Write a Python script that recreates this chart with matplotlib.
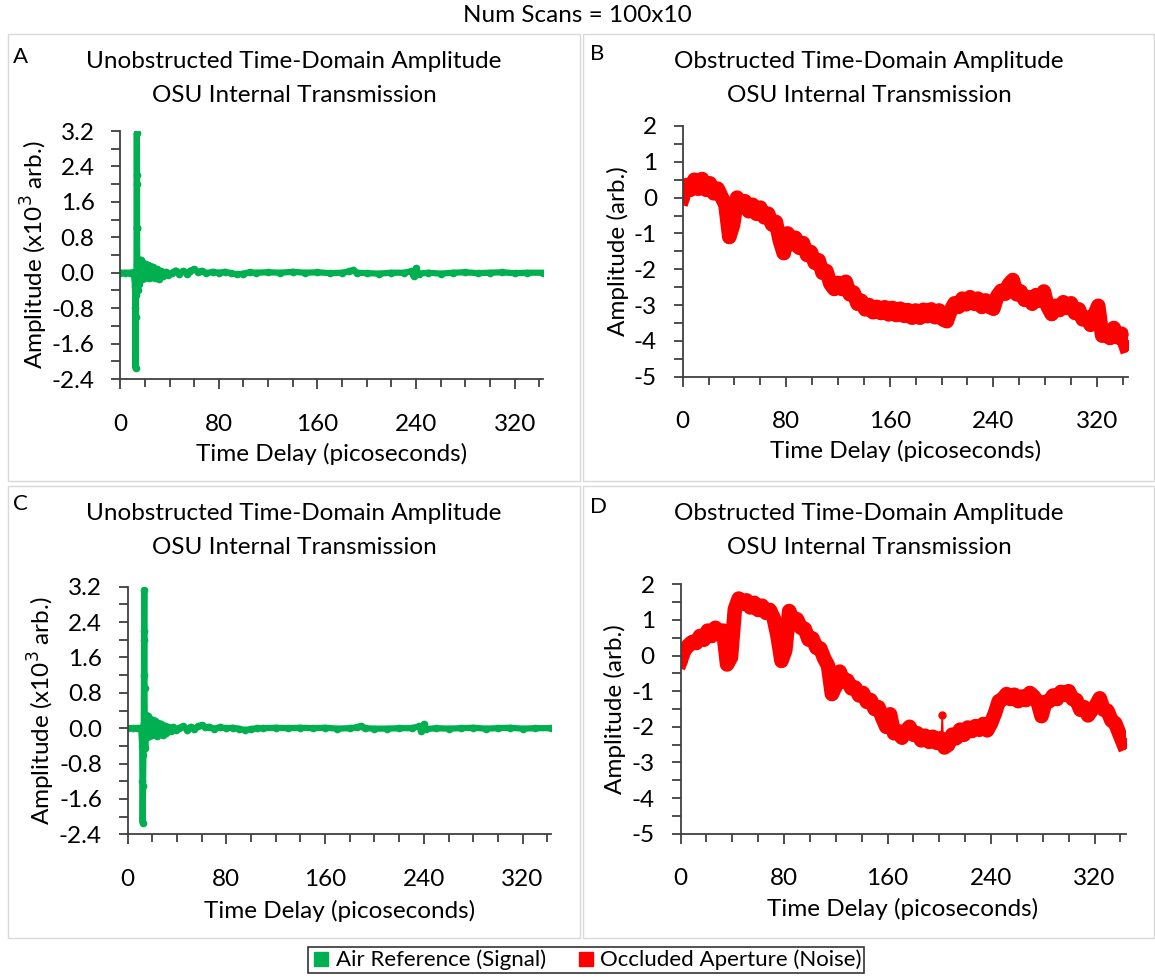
import numpy as np
import matplotlib.pyplot as plt
from matplotlib.lines import Line2D
from matplotlib.patches import Rectangle
from matplotlib.ticker import MultipleLocator, FormatStrFormatter

plt.rcParams['font.family'] = ['Lato', 'DejaVu Sans']
plt.rcParams['axes.unicode_minus'] = False

GREEN = '#00B050'
RED = '#FF0000'
AXC = '#404040'

# ---- data ----
# air reference (signal), panel A, amplitude in x10^3 arb.
a_t = [0, 4, 8, 11, 12.0, 12.3, 12.5, 12.7, 12.9, 13.2, 13.3, 13.4, 13.5, 13.6, 13.7, 13.8,
       14.2, 14.8, 15.5, 16.5, 17.5, 18.5, 19.5, 20.5, 21.5, 22.5, 23.5, 24.5, 25.5, 27,
       28.5, 30, 31.5, 33, 35, 37, 39, 42, 45, 48, 51, 54, 57, 60, 63, 66, 70, 75, 80,
       85, 90, 95, 100, 105, 110, 120, 130, 140, 150, 160, 170, 180, 186, 189, 192, 200,
       210, 220, 230, 236, 238, 240, 242, 250, 260, 270, 280, 290, 300, 310, 320, 330, 343]
a_v = [0, 0, 0, 0.01, -0.3, -0.8, -2.16, -1.0, -0.5, 0.0, 1.0, 2.0, 3.15, 2.2, 1.0, 0.2,
       -0.4, 0.3, -0.25, 0.28, -0.15, 0.22, -0.12, 0.2, -0.1, 0.18, -0.12, 0.15, -0.1, 0.12,
       -0.12, 0.08, -0.15, 0.04, -0.08, 0.02, -0.06, 0.0, 0.05, -0.03, 0.04, -0.02, 0.05,
       0.08, 0.02, 0.04, -0.01, 0.02, 0.0, 0.02, -0.01, -0.04, -0.02, 0.01, 0.0, 0.01, 0.0,
       0.02, 0.0, 0.01, -0.01, 0.0, 0.03, 0.06, 0.0, -0.01, -0.02, 0.0, 0.0, 0.03, -0.08,
       0.1, -0.02, 0.0, -0.02, 0.0, 0.01, -0.01, 0.0, 0.01, -0.01, 0.0, 0.0]

# air reference (signal), panel C
c_t = [0, 4, 8, 11, 11.8, 12.0, 12.2, 12.5, 12.8, 13.1, 13.25, 13.35, 13.5, 13.6, 13.7, 13.9,
       14.3, 14.9, 15.6, 16.5, 17.5, 18.5, 19.5, 20.5, 21.5, 22.5, 23.5, 24.5, 25.5, 27,
       28.5, 30, 31.5, 33, 35, 37, 39, 42, 45, 48, 51, 54, 57, 60, 63, 66, 70, 75, 80,
       85, 90, 95, 100, 105, 110, 120, 130, 140, 150, 160, 170, 180, 186, 189, 192, 200,
       210, 220, 230, 236, 238, 240, 242, 250, 260, 270, 280, 290, 300, 310, 320, 330, 343]
c_v = [0, 0, 0, 0.01, -0.4, -1.2, -2.14, -1.3, -0.6, 0.1, 1.2, 2.2, 3.12, 2.0, 0.9, 0.1,
       -0.45, 0.29, -0.2, 0.27, -0.18, 0.2, -0.15, 0.18, -0.12, 0.16, -0.18, 0.12, -0.14, 0.1,
       -0.16, 0.06, -0.12, 0.03, -0.06, 0.02, -0.04, 0.01, 0.04, -0.03, 0.03, -0.02, 0.04,
       0.07, 0.02, 0.03, -0.01, 0.02, 0.0, 0.01, -0.01, -0.04, -0.02, 0.0, 0.0, 0.01, 0.0,
       0.01, 0.0, 0.01, -0.01, 0.0, 0.02, 0.05, 0.0, -0.01, -0.01, 0.0, 0.0, 0.04, -0.07,
       0.09, -0.02, 0.0, -0.01, 0.0, 0.01, -0.01, 0.0, 0.01, -0.01, 0.0, 0.0]

# occluded aperture (noise), sampled every 3 ps
t_red = np.arange(0, 343, 3)
b_v = [0.00, 0.35, 0.22, 0.50, 0.25, 0.52, 0.22, 0.40, 0.12, 0.25,
       0.02, -0.20, -1.10, -0.75, 0.00, -0.20, -0.10, -0.38, -0.20, -0.45,
       -0.28, -0.55, -0.45, -0.75, -0.68, -1.20, -1.55, -1.00, -1.30, -1.12,
       -1.40, -1.27, -1.60, -1.52, -1.82, -1.75, -2.10, -2.05, -2.40, -2.55,
       -2.38, -2.55, -2.35, -2.70, -2.65, -2.96, -2.88, -3.12, -3.00, -3.20,
       -3.05, -3.22, -3.06, -3.26, -3.08, -3.28, -3.10, -3.30, -3.14, -3.35,
       -3.15, -3.35, -3.13, -3.31, -3.12, -3.34, -3.15, -3.40, -3.45, -3.15,
       -2.95, -3.05, -2.82, -2.98, -2.78, -2.96, -2.82, -3.05, -2.87, -3.05,
       -3.10, -2.75, -2.60, -2.68, -2.42, -2.30, -2.70, -2.62, -2.85, -2.78,
       -2.96, -2.72, -2.88, -2.62, -3.05, -3.25, -3.02, -3.14, -2.92, -3.08,
       -2.95, -3.22, -3.12, -3.40, -3.35, -3.55, -3.28, -3.02, -3.85, -3.78,
       -3.92, -3.64, -3.90, -3.80, -4.12]
d_v = [-0.15, 0.15, 0.28, 0.38, 0.35, 0.55, 0.45, 0.70, 0.55, 0.78,
       0.65, 0.70, -0.25, -0.05, 1.30, 1.60, 1.45, 1.55, 1.35, 1.48,
       1.28, 1.40, 1.20, 1.28, 1.05, 0.55, -0.15, 0.15, 1.25, 0.98,
       1.02, 0.78, 0.75, 0.45, 0.48, 0.22, 0.20, -0.08, -0.28, -1.08,
       -0.85, -0.45, -0.72, -0.70, -0.92, -0.90, -1.12, -1.05, -1.30, -1.25,
       -1.50, -1.45, -1.75, -2.00, -1.65, -2.18, -2.12, -2.30, -2.12, -2.00,
       -2.22, -2.18, -2.38, -2.25, -2.42, -2.28, -2.45, -2.32, -2.58, -2.50,
       -2.22, -2.32, -2.08, -2.22, -2.02, -2.12, -1.98, -2.08, -1.92, -2.10,
       -1.90, -1.62, -1.28, -1.22, -1.08, -1.22, -1.10, -1.28, -1.15, -1.25,
       -1.05, -1.15, -1.30, -1.70, -1.30, -1.28, -1.12, -1.22, -1.02, -1.10,
       -1.00, -1.22, -1.25, -1.52, -1.45, -1.68, -1.52, -1.40, -1.20, -1.52,
       -1.55, -1.82, -1.90, -2.18, -2.45]
# single glitch in panel D
d_spike_t = [201.5, 202.3, 203.0]
d_spike_v = [-2.40, -1.68, -2.45]

W, H = 1155, 977
FS = 17.5
fig = plt.figure(figsize=(W / 100, H / 100), dpi=100)

# chart area borders
for (x0, y0, x1, y1) in [(8, 34, 580, 481), (583, 34, 1154, 481),
                         (8, 486, 580, 938), (583, 486, 1154, 938)]:
    fig.patches.append(Rectangle((x0 / W, 1 - y1 / H), (x1 - x0) / W, (y1 - y0) / H,
                                 transform=fig.transFigure, fill=False,
                                 edgecolor='#d9d9d9', lw=1))

fig.text(577 / W, 1 - 16 / H, 'Num Scans = 100x10', ha='center', va='center', fontsize=FS)


def style(ax, ylo, yhi, ymaj, ymin, fmt, xmax):
    ax.set_xlim(0, xmax)
    ax.set_ylim(ylo, yhi)
    ax.xaxis.set_major_locator(MultipleLocator(80))
    ax.xaxis.set_minor_locator(MultipleLocator(20))
    ax.yaxis.set_major_locator(MultipleLocator(ymaj))
    ax.yaxis.set_minor_locator(MultipleLocator(ymin))
    ax.yaxis.set_major_formatter(FormatStrFormatter(fmt))
    for s in ['top', 'right']:
        ax.spines[s].set_visible(False)
    for s in ['left', 'bottom']:
        ax.spines[s].set_color(AXC)
        ax.spines[s].set_linewidth(1.3)
    ax.tick_params(which='both', color=AXC, width=1.3, labelsize=FS)
    ax.tick_params(axis='x', which='major', length=7, pad=18)
    ax.tick_params(axis='x', which='minor', length=6)
    ax.tick_params(axis='y', which='both', length=6.5, pad=12)
    ax.set_xlabel('Time Delay (picoseconds)', fontsize=FS)


def place(ax, l, t, r, b):
    ax.set_position([l / W, 1 - b / H, (r - l) / W, (b - t) / H])


def titles(cx, y1, y2, line1, letter, lx, ly):
    fig.text(cx / W, 1 - y1 / H, line1, ha='center', va='center', fontsize=FS)
    fig.text(cx / W, 1 - y2 / H, 'OSU Internal Transmission', ha='center', va='center', fontsize=FS)
    fig.text(lx / W, 1 - ly / H, letter, ha='left', va='center', fontsize=16)


axA = fig.add_axes([0, 0, 1, 1])
axB = fig.add_axes([0, 0, 1, 1])
axC = fig.add_axes([0, 0, 1, 1])
axD = fig.add_axes([0, 0, 1, 1])
place(axA, 120.2, 131, 543, 379)
place(axB, 682.7, 126, 1128, 376.7)
place(axC, 127.6, 586.7, 551, 834.3)
place(axD, 680.5, 584.3, 1125.6, 833.7)

for ax, t, v in [(axA, a_t, a_v), (axC, c_t, c_v)]:
    ax.plot(t, v, color=GREEN, lw=4.5, marker='o', ms=4.5, solid_joinstyle='round')
    style(ax, -2.4, 3.2, 0.8, 0.4, '%.1f', 343)
    ax.set_ylabel('Amplitude (x10$^{3}$ arb.)', fontsize=FS)

for ax, v in [(axB, b_v), (axD, d_v)]:
    ax.plot(t_red, v, color=RED, lw=10.5, marker='o', ms=8, solid_joinstyle='round')
    style(ax, -5, 2, 1, 0.5, '%d', 344)
    ax.set_ylabel('Amplitude (arb.)', fontsize=FS)

axD.plot(d_spike_t, d_spike_v, color=RED, lw=1.2, marker='o', ms=5)

# label positions
for ax, xl_y, yl_x in [(axA, 454, 34), (axB, 451, 618), (axC, 911, 41), (axD, 909, 615)]:
    pos = ax.get_position()
    l, b, w, h = pos.x0 * W, (1 - pos.y0) * H, pos.width * W, pos.height * H
    ax.xaxis.set_label_coords(0.5, (b - xl_y) / h)
    ax.xaxis.label.set_va('center')
    ax.yaxis.set_label_coords((yl_x - l) / w, 0.5)
    ax.yaxis.label.set_va('center')

titles(294, 62, 95, 'Unobstructed Time-Domain Amplitude', 'A', 13, 57)
titles(869, 62, 95, 'Obstructed Time-Domain Amplitude', 'B', 590, 54)
titles(294, 513, 547, 'Unobstructed Time-Domain Amplitude', 'C', 13, 504)
titles(869, 513, 547, 'Obstructed Time-Domain Amplitude', 'D', 590, 507)

handles = [Line2D([], [], ls='none', marker='s', ms=10, color=GREEN),
           Line2D([], [], ls='none', marker='s', ms=10, color=RED)]
leg = fig.legend(handles, ['Air Reference (Signal)', 'Occluded Aperture (Noise)'],
                 loc='center', bbox_to_anchor=(586 / W, 1 - 960 / H), ncol=2,
                 fontsize=16, frameon=True, fancybox=False, borderpad=0.12,
                 handletextpad=0.15, columnspacing=1.3, handlelength=1.0)
leg.get_frame().set_edgecolor('black')
leg.get_frame().set_linewidth(1.2)

fig.savefig('out.png', dpi=100)
